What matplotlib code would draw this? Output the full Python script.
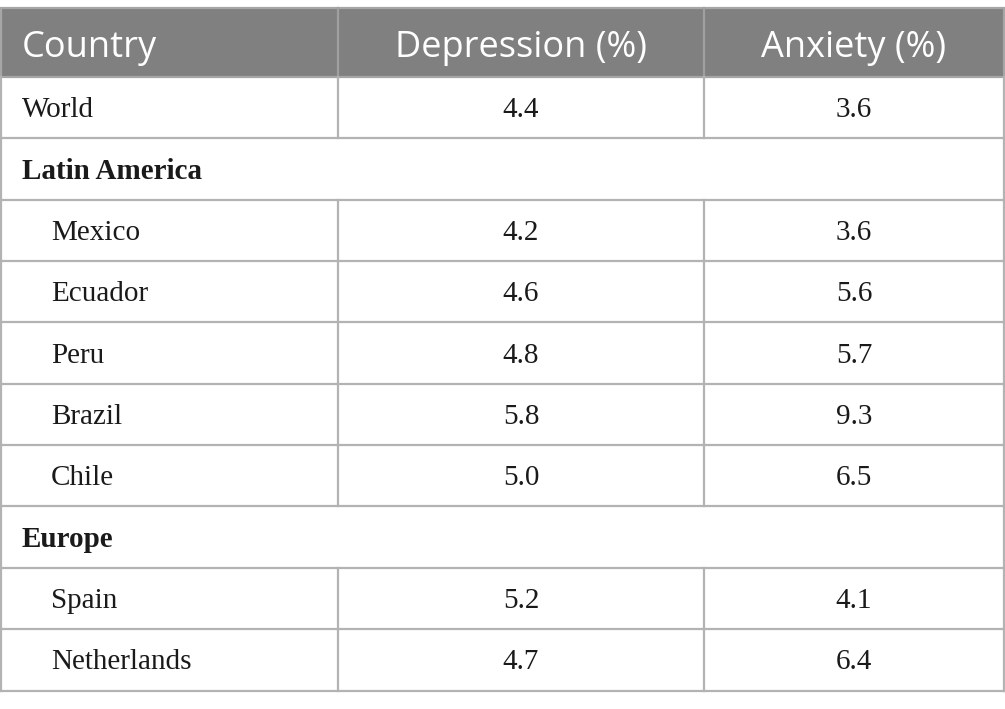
import matplotlib
matplotlib.use("Agg")
import matplotlib.pyplot as plt
from matplotlib.patches import Rectangle

# ---- data ----
headers = ["Country", "Depression (%)", "Anxiety (%)"]
row_labels = ["World", "Latin America", "Mexico", "Ecuador", "Peru", "Brazil",
              "Chile", "Europe", "Spain", "Netherlands"]
row_kinds = ["plain", "section", "sub", "sub", "sub", "sub", "sub", "section", "sub", "sub"]
depression = ["4.4", None, "4.2", "4.6", "4.8", "5.8", "5.0", None, "5.2", "4.7"]
anxiety = ["3.6", None, "3.6", "5.6", "5.7", "9.3", "6.5", None, "4.1", "6.4"]

# ---- layout (pixels) ----
W, H = 1005, 709
fig = plt.figure(figsize=(W / 100, H / 100), dpi=100)
ax = fig.add_axes([0, 0, 1, 1])
ax.set_xlim(0, W)
ax.set_ylim(H, 0)
ax.axis("off")

x0, x1, x2, x3 = 0.5, 338, 704, 1004
top, head_bot, bottom = 8, 77, 690.5
row_h = (bottom - head_bot) / len(row_labels)
line_c = "#b3b3b3"
head_c = "#7f807f"
lw = 1.6

# header
ax.add_patch(Rectangle((x0, top), x3 - x0, head_bot - top, facecolor=head_c,
                       edgecolor="#a6a6a6", lw=lw, zorder=1))
for xd in (x1, x2):
    ax.plot([xd, xd], [top, head_bot], color="#a0a0a0", lw=lw, zorder=2)
hy = (top + head_bot) / 2 + 5.5
hfont = dict(family="Open Sans", fontsize=26, color="white", va="center")
ax.text(22, hy, headers[0], ha="left", **hfont)
ax.text((x1 + x2) / 2, hy, headers[1], ha="center", **hfont)
ax.text((x2 + x3) / 2, hy, headers[2], ha="center", **hfont)

# body
bfont = dict(family="Liberation Serif", fontsize=21, color="#1a1a1a", va="center")
for i, (lab, kind, d, a) in enumerate(zip(row_labels, row_kinds, depression, anxiety)):
    yt = head_bot + i * row_h
    yb = yt + row_h
    yc = (yt + yb) / 2 + 2.5
    ax.plot([x0, x3], [yb, yb], color=line_c, lw=lw, zorder=2)
    ax.plot([x0, x0], [yt, yb], color=line_c, lw=lw, zorder=2)
    ax.plot([x3, x3], [yt, yb], color=line_c, lw=lw, zorder=2)
    if kind == "section":
        ax.text(22, yc, lab, ha="left", fontweight="bold", **bfont)
        continue
    for xd in (x1, x2):
        ax.plot([xd, xd], [yt, yb], color=line_c, lw=lw, zorder=2)
    xl = 51 if kind == "sub" else 22
    ax.text(xl, yc, lab, ha="left", **bfont)
    ax.text((x1 + x2) / 2, yc, d, ha="center", **bfont)
    ax.text((x2 + x3) / 2, yc, a, ha="center", **bfont)

fig.savefig("out.png", dpi=100, facecolor="white")
